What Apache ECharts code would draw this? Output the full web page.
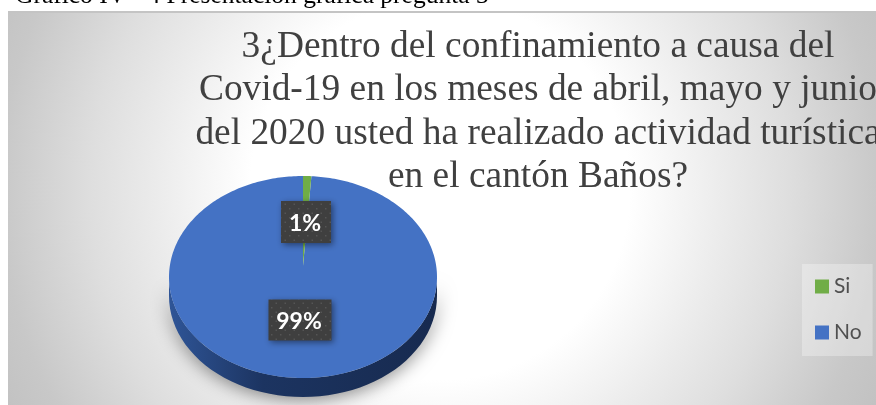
<!DOCTYPE html>
<html><head><meta charset="utf-8">
<style>html,body{margin:0;padding:0;background:#fff}#c{width:876px;height:405px}</style>
<script src="https://cdn.jsdelivr.net/npm/echarts@6/dist/echarts.min.js"></script>
</head><body><div id="c"></div>
<script>
var categories = ['Si', 'No'];
var values = [1, 99];
var percentLabels = ['1%', '99%'];
var colors = ['#70ad47', '#4472c4'];
var titleText = '3¿Dentro del confinamiento a causa del\nCovid-19 en los meses de abril, mayo y junio\ndel 2020 usted ha realizado actividad turística\nen el cantón Baños?';
var captionText = 'Gráfico IV - 4 Presentación gráfica pregunta 3';

var PIE = {cx: 303, cy: 277, rx: 134, ry: 101, apexY: 266, depth: 19};
var LABELS = [{x: 306, y: 222, w: 50, h: 42}, {x: 300, y: 320, w: 63, h: 41}];
var total = values.reduce(function (a, b) { return a + b; }, 0);

function pt(frac, dy) {
  var a = frac * Math.PI * 2;
  return [PIE.cx + PIE.rx * Math.sin(a), PIE.cy - PIE.ry * Math.cos(a) + (dy || 0)];
}
var tile = document.createElement('canvas');
tile.width = tile.height = 9;
(function () {
  var g = tile.getContext('2d');
  g.fillStyle = '#3f3f3f'; g.fillRect(0, 0, 9, 9);
  g.fillStyle = '#555555'; g.fillRect(1, 1, 1.5, 1.5); g.fillRect(5.5, 5.5, 1.5, 1.5);
})();

function sliceSeries(i) {
  var start = values.slice(0, i).reduce(function (a, b) { return a + b; }, 0) / total;
  var end = start + values[i] / total;
  return {
    type: 'custom', name: categories[i], coordinateSystem: 'none', z: 5 - i,
    itemStyle: {color: colors[i]},
    data: [values[i]],
    renderItem: function () {
      var pts = [[PIE.cx, PIE.apexY]];
      var n = Math.max(4, Math.ceil((end - start) * 360));
      for (var k = 0; k <= n; k++) pts.push(pt(start + (end - start) * k / n));
      var L = LABELS[i];
      return {type: 'group', children: [
        {type: 'polygon', shape: {points: pts}, style: {fill: colors[i]}},
        {type: 'rect', z2: 10, shape: {x: L.x - L.w / 2, y: L.y - L.h / 2, width: L.w, height: L.h},
          style: {fill: {image: tile, repeat: 'repeat'}, shadowBlur: 6, shadowColor: 'rgba(0,0,0,0.45)', shadowOffsetX: 2, shadowOffsetY: 2}},
        {type: 'text', z2: 11, style: {x: L.x - 1, y: L.y + 2, text: percentLabels[i], fill: '#fff', font: 'bold 23px Lato', align: 'center', verticalAlign: 'middle'}}
      ]};
    }
  };
}
function wallSeries() {
  return {
    type: 'custom', coordinateSystem: 'none', z: 1, silent: true, data: [total],
    renderItem: function () {
      var pts = [];
      for (var k = 25; k <= 75; k++) pts.push(pt(k / 100, PIE.depth));
      for (k = 75; k >= 25; k--) pts.push(pt(k / 100));
      return {type: 'polygon', shape: {points: pts}, style: {
        fill: {type: 'linear', x: 0, y: 0, x2: 1, y2: 0, colorStops: [
          {offset: 0, color: '#2f5597'}, {offset: 0.35, color: '#1c3461'}, {offset: 1, color: '#172a4f'}]},
        shadowBlur: 18, shadowColor: 'rgba(0,0,0,0.5)', shadowOffsetY: 2}};
    }
  };
}
var chart = echarts.init(document.getElementById('c'), null, {renderer: 'canvas'});
chart.setOption({
  animation: false,
  graphic: [
    {type: 'rect', z: -10, shape: {x: 8, y: 12, width: 868, height: 393},
      style: {fill: {type: 'radial', global: true, x: 440, y: 190, r: 500, colorStops: [
        {offset: 0, color: '#ffffff'}, {offset: 0.38, color: '#ffffff'}, {offset: 0.56, color: '#ececec'},
        {offset: 0.7, color: '#dedede'}, {offset: 0.88, color: '#c8c8c8'}, {offset: 1, color: '#c0c0c0'}]}}},
    {type: 'rect', z: -9, shape: {x: 8, y: 11, width: 868, height: 2}, style: {fill: '#c4c4c4'}},
    {type: 'text', z: -8, style: {x: 15, y: -17, text: captionText, fill: '#000', font: '25.5px "Liberation Serif"', align: 'left', verticalAlign: 'top'}}
  ],
  title: {
    text: titleText, left: 533, top: 20, textAlign: 'center',
    textStyle: {fontFamily: 'Liberation Serif', fontSize: 37.4, fontWeight: 'normal', color: '#404040', lineHeight: 43.5}
  },
  legend: {
    data: categories, orient: 'vertical', left: 802, top: 264,
    padding: [12, 11, 13, 13], itemWidth: 14, itemHeight: 14, itemGap: 25,
    backgroundColor: 'rgba(255,255,255,0.3)', selectedMode: false,
    icon: 'rect',
    textStyle: {fontFamily: 'Lato', fontSize: 21, color: '#505050'}
  },
  series: [wallSeries(), sliceSeries(0), sliceSeries(1)]
});
</script></body></html>
